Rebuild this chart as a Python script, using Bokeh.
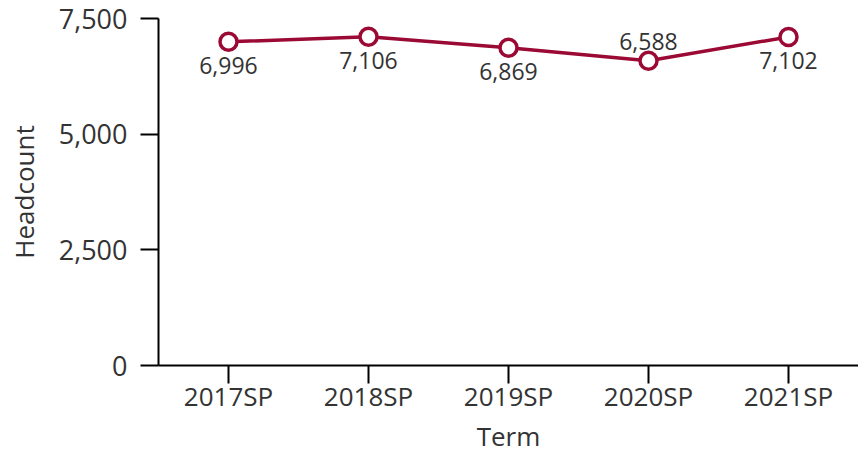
from bokeh.plotting import figure
from bokeh.models import ColumnDataSource, Range1d, FixedTicker, NumeralTickFormatter, LabelSet
from bokeh.core.properties import value
from bokeh.embed import file_html
from bokeh.resources import INLINE

terms = ["2017SP", "2018SP", "2019SP", "2020SP", "2021SP"]
headcount = [6996, 7106, 6869, 6588, 7102]
label_offsets = [-24, -24, -24, 19, -24]
y_ticks = [0, 2500, 5000, 7500]

color = "#9b0a34"
text_color = "#333333"
font = "Open Sans"

labels = [f"{v:,}" for v in headcount]
src = ColumnDataSource(dict(x=terms, y=headcount, lab=labels, off=label_offsets))

p = figure(x_range=terms, y_range=Range1d(0, 7500),
           frame_width=700, frame_height=347,
           output_backend="svg", toolbar_location=None,
           min_border_left=158, min_border_top=18, min_border_right=0, min_border_bottom=80)
p.outline_line_color = None
p.grid.grid_line_color = None
p.x_range.range_padding = 0

p.line("x", "y", source=src, line_color=color, line_width=3.5)
p.scatter("x", "y", source=src, size=17, fill_color="white", line_color=color, line_width=3.5)

lbl = LabelSet(x="x", y="y", text="lab", source=src, y_offset="off",
               text_align="center", text_baseline="middle",
               text_font=value(font), text_font_size="23px", text_color=text_color)
p.add_layout(lbl)

for ax in (p.xaxis[0], p.yaxis[0]):
    ax.axis_line_color = "black"
    ax.axis_line_width = 2
    ax.major_tick_line_color = "black"
    ax.major_tick_line_width = 2
    ax.major_tick_out = 18
    ax.major_tick_in = 0
    ax.minor_tick_line_color = None
    ax.major_label_text_font = font
    ax.major_label_text_color = text_color
    ax.axis_label_text_font = font
    ax.axis_label_text_font_size = "26px"
    ax.axis_label_text_color = text_color
    ax.axis_label_text_font_style = "normal"

p.yaxis.major_label_text_font_size = "27px"
p.xaxis.major_label_text_font_size = "26px"
p.yaxis.ticker = FixedTicker(ticks=y_ticks)
p.yaxis.formatter = NumeralTickFormatter(format="0,0")
p.yaxis.axis_label = "Headcount"
p.xaxis.axis_label = "Term"
p.yaxis.major_label_standoff = 13
p.xaxis.major_label_standoff = -6
p.xaxis.axis_label_standoff = 1
p.yaxis.axis_label_standoff = 14

open("out.html", "w").write(file_html(p, INLINE))
